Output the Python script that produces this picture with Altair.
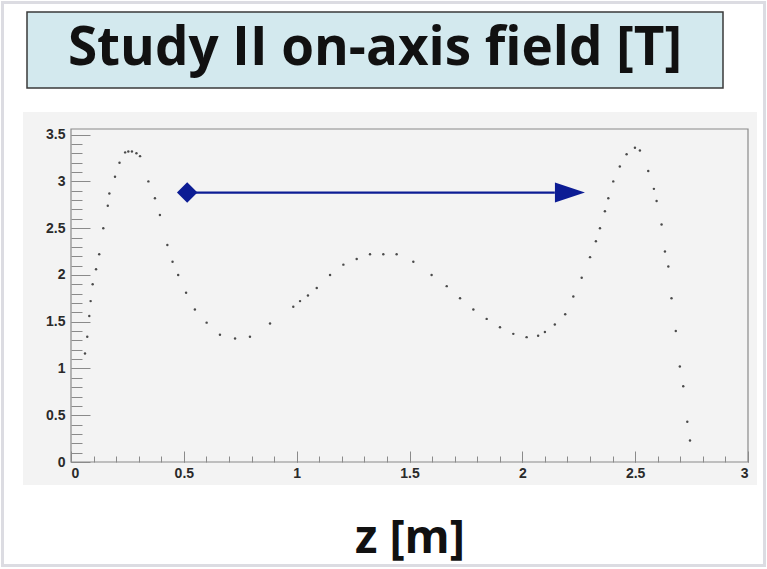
import altair as alt
import pandas as pd

# ---- data ----
z_m = [0.062, 0.072, 0.081, 0.087, 0.096, 0.111, 0.125, 0.143, 0.163, 0.170,
       0.195, 0.215, 0.240, 0.254, 0.270, 0.290, 0.306, 0.343, 0.372, 0.394,
       0.427, 0.450, 0.475, 0.510, 0.549, 0.601, 0.660, 0.727, 0.793, 0.882,
       0.985, 1.015, 1.050, 1.089, 1.148, 1.207, 1.266, 1.325, 1.384, 1.443,
       1.517, 1.598, 1.665, 1.724, 1.783, 1.842, 1.901, 1.960, 2.019, 2.070,
       2.100, 2.144, 2.190, 2.226, 2.263, 2.300, 2.326, 2.344, 2.366, 2.381,
       2.403, 2.432, 2.462, 2.499, 2.521, 2.558, 2.583, 2.595, 2.617, 2.632,
       2.647, 2.661, 2.680, 2.698, 2.713, 2.731, 2.743]
b_T = [1.16, 1.34, 1.56, 1.72, 1.90, 2.06, 2.22, 2.50, 2.74, 2.87,
       3.05, 3.20, 3.31, 3.32, 3.32, 3.30, 3.27, 3.00, 2.82, 2.64,
       2.32, 2.14, 2.00, 1.81, 1.63, 1.49, 1.36, 1.32, 1.34, 1.48,
       1.66, 1.72, 1.78, 1.86, 2.00, 2.11, 2.17, 2.22, 2.22, 2.22,
       2.14, 2.00, 1.88, 1.75, 1.63, 1.53, 1.44, 1.37, 1.335, 1.35,
       1.39, 1.47, 1.58, 1.77, 1.97, 2.19, 2.36, 2.50, 2.68, 2.82,
       3.00, 3.16, 3.29, 3.36, 3.33, 3.11, 2.92, 2.79, 2.54, 2.25,
       2.09, 1.75, 1.40, 1.02, 0.81, 0.43, 0.23]

arrow_start_z = [0.515]
arrow_shaft_end_z = [2.144]
arrow_head_z = [2.211]
arrow_B = [2.88]

x_major = [0, 0.5, 1, 1.5, 2, 2.5, 3]
x_minor = [0, 0.1, 0.2, 0.3, 0.4, 0.5, 0.6, 0.7, 0.8, 0.9, 1.0, 1.1, 1.2, 1.3,
           1.4, 1.5, 1.6, 1.7, 1.8, 1.9, 2.0, 2.1, 2.2, 2.3, 2.4, 2.5, 2.6, 2.7,
           2.8, 2.9, 3.0]
y_major = [0, 0.5, 1, 1.5, 2, 2.5, 3, 3.5]
y_minor = [0, 0.1, 0.2, 0.3, 0.4, 0.5, 0.6, 0.7, 0.8, 0.9, 1.0, 1.1, 1.2, 1.3,
           1.4, 1.5, 1.6, 1.7, 1.8, 1.9, 2.0, 2.1, 2.2, 2.3, 2.4, 2.5, 2.6, 2.7,
           2.8, 2.9, 3.0, 3.1, 3.2, 3.3, 3.4, 3.5]

title_text = "Study II on-axis field [T]"
x_title = "z [m]"

# ---- styling ----
W, H = 677, 333
BLUE = "#0c1c94"
AX = "#8a8a8a"
FONT = "Open Sans"
LFONT = "Liberation Sans"

xs = alt.Scale(domain=[0, 3], nice=False, zero=False)
ys = alt.Scale(domain=[0, 3.56], nice=False, zero=False)

one = alt.Data(values=[{}])

outer = alt.Chart(one).mark_rect(filled=False, stroke="#dcdce2", strokeWidth=3).encode(
    x=alt.value(-68.5), x2=alt.value(693.5), y=alt.value(-126.5), y2=alt.value(436.5))

pad_bg = alt.Chart(one).mark_rect(color="#f3f3f3").encode(
    x=alt.value(-48), x2=alt.value(686), y=alt.value(-17), y2=alt.value(356))

title_box = alt.Chart(one).mark_rect(fill="#d3e9ee", stroke="#3a3a3a", strokeWidth=1.5).encode(
    x=alt.value(-44), x2=alt.value(652), y=alt.value(-117), y2=alt.value(-41))

title = alt.Chart(one).mark_text(font=FONT, fontSize=53, fontWeight="bold", color="#111",
                                 align="center", baseline="middle").encode(
    x=alt.value(304), y=alt.value(-80), text=alt.value(title_text))

curve_df = pd.DataFrame({"z": z_m, "B": b_T})
curve = alt.Chart(curve_df).mark_circle(size=6, color="#4a4a4a", opacity=1).encode(
    x=alt.X("z:Q", scale=xs, axis=alt.Axis(
        orient="bottom", values=x_major, format="~g", ticks=False, domain=False, grid=False,
        labelPadding=4, labelFont=LFONT, labelFontSize=14, labelFontWeight="bold",
        labelColor="#2a2a2a", title=x_title, titleFont=FONT, titleFontSize=46,
        titleFontWeight="bold", titleColor="#111", titlePadding=36, zindex=2)),
    y=alt.Y("B:Q", scale=ys, axis=alt.Axis(
        orient="left", values=y_major, format="~g", ticks=False, domain=False, grid=False,
        labelPadding=6, labelFont=LFONT, labelFontSize=14, labelFontWeight="bold",
        labelColor="#2a2a2a", title=None, zindex=2)),
)

shaft_df = pd.DataFrame({"z": arrow_start_z, "z2": arrow_shaft_end_z, "B": arrow_B})
shaft = alt.Chart(shaft_df).mark_rule(color=BLUE, strokeWidth=2.2).encode(
    x=alt.X("z:Q", scale=xs, axis=alt.Axis(
        orient="top", offset=-H, values=x_major, tickSize=11, tickColor=AX, labels=False,
        domain=False, grid=False, title=None, zindex=2)),
    x2="z2:Q",
    y=alt.Y("B:Q", scale=ys, axis=alt.Axis(
        orient="right", offset=-W, values=y_major, tickSize=19, tickColor=AX, labels=False,
        domain=False, grid=False, title=None, zindex=2)),
)

start_df = pd.DataFrame({"z": arrow_start_z, "B": arrow_B})
diamond = alt.Chart(start_df).mark_point(shape="diamond", filled=True, size=420,
                                         color=BLUE, opacity=1).encode(
    x=alt.X("z:Q", scale=xs, axis=alt.Axis(
        orient="top", offset=-H, values=x_minor, tickSize=6, tickColor=AX, labels=False,
        domain=False, grid=False, title=None, zindex=2)),
    y=alt.Y("B:Q", scale=ys, axis=alt.Axis(
        orient="right", offset=-W, values=y_minor, tickSize=11, tickColor=AX, labels=False,
        domain=False, grid=False, title=None, zindex=2)),
)

head_df = pd.DataFrame({"z": arrow_head_z, "B": arrow_B})
head = alt.Chart(head_df).mark_point(shape="M-1,-0.667L1,0L-1,0.667Z", filled=True, size=900,
                                     color=BLUE, opacity=1).encode(
    x=alt.X("z:Q", scale=xs, axis=None),
    y=alt.Y("B:Q", scale=ys, axis=None),
)

frame = alt.Chart(one).mark_rect(filled=False, stroke=AX, strokeWidth=1.2).encode(
    x=alt.value(0), x2=alt.value(W), y=alt.value(0), y2=alt.value(H))

chart = alt.layer(outer, pad_bg, title_box, title, curve, shaft, diamond, head, frame).resolve_axis(
    x="independent", y="independent"
).properties(
    width=W, height=H,
    autosize=alt.AutoSizeParams(type="none"),
    padding={"left": 71, "top": 129, "right": 19, "bottom": 107},
    background="white",
).configure_view(stroke=None, fill="#f3f3f3")

chart.save("out.html", embed_options={"renderer": "svg", "actions": False})
